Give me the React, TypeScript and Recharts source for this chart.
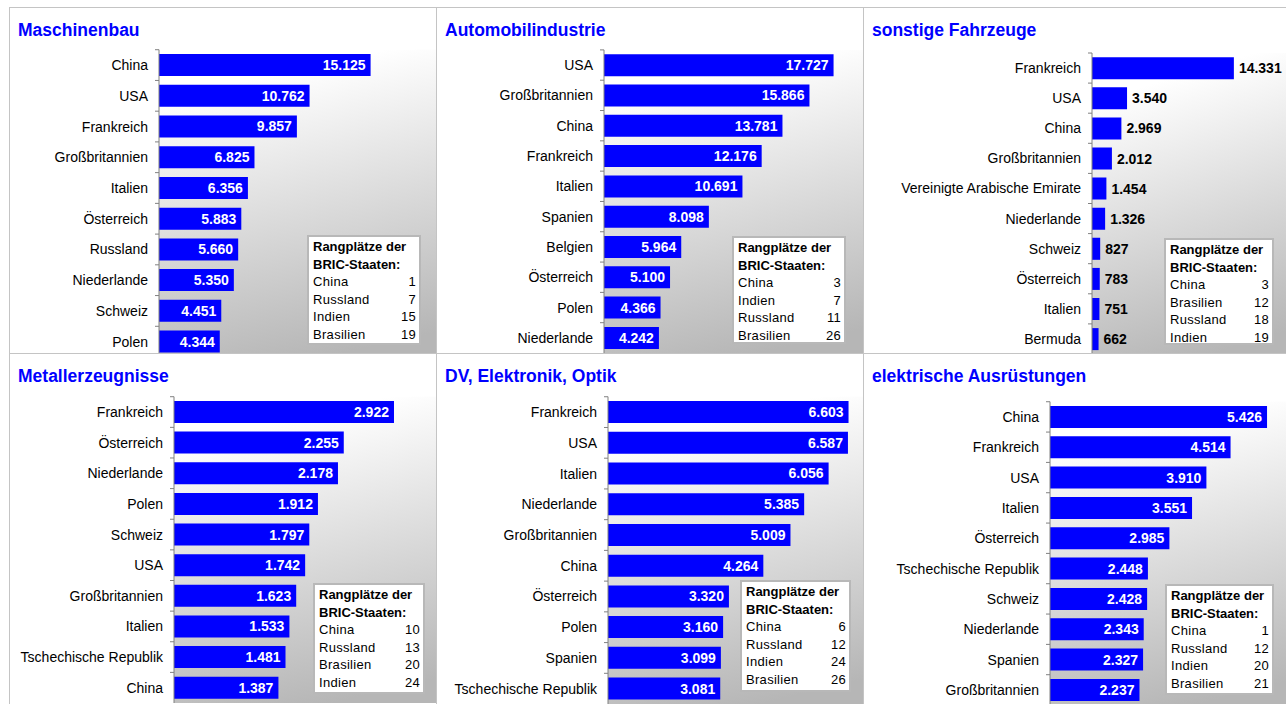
import React from 'react';
import { BarChart, Bar, XAxis, YAxis, CartesianGrid, LabelList } from 'recharts';

// ---------- DATA ----------
const maschinenbauTitel = 'Maschinenbau';
const maschinenbauLaender = ['China', 'USA', 'Frankreich', 'Großbritannien', 'Italien', 'Österreich', 'Russland', 'Niederlande', 'Schweiz', 'Polen'];
const maschinenbauWerte = [15125, 10762, 9857, 6825, 6356, 5883, 5660, 5350, 4451, 4344];
const maschinenbauBricLaender = ['China', 'Russland', 'Indien', 'Brasilien'];
const maschinenbauBricRang = [1, 7, 15, 19];

const autoTitel = 'Automobilindustrie';
const autoLaender = ['USA', 'Großbritannien', 'China', 'Frankreich', 'Italien', 'Spanien', 'Belgien', 'Österreich', 'Polen', 'Niederlande'];
const autoWerte = [17727, 15866, 13781, 12176, 10691, 8098, 5964, 5100, 4366, 4242];
const autoBricLaender = ['China', 'Indien', 'Russland', 'Brasilien'];
const autoBricRang = [3, 7, 11, 26];

const fahrzeugeTitel = 'sonstige Fahrzeuge';
const fahrzeugeLaender = ['Frankreich', 'USA', 'China', 'Großbritannien', 'Vereinigte Arabische Emirate', 'Niederlande', 'Schweiz', 'Österreich', 'Italien', 'Bermuda'];
const fahrzeugeWerte = [14331, 3540, 2969, 2012, 1454, 1326, 827, 783, 751, 662];
const fahrzeugeBricLaender = ['China', 'Brasilien', 'Russland', 'Indien'];
const fahrzeugeBricRang = [3, 12, 18, 19];

const metallTitel = 'Metallerzeugnisse';
const metallLaender = ['Frankreich', 'Österreich', 'Niederlande', 'Polen', 'Schweiz', 'USA', 'Großbritannien', 'Italien', 'Tschechische Republik', 'China'];
const metallWerte = [2922, 2255, 2178, 1912, 1797, 1742, 1623, 1533, 1481, 1387];
const metallBricLaender = ['China', 'Russland', 'Brasilien', 'Indien'];
const metallBricRang = [10, 13, 20, 24];

const dvTitel = 'DV, Elektronik, Optik';
const dvLaender = ['Frankreich', 'USA', 'Italien', 'Niederlande', 'Großbritannien', 'China', 'Österreich', 'Polen', 'Spanien', 'Tschechische Republik'];
const dvWerte = [6603, 6587, 6056, 5385, 5009, 4264, 3320, 3160, 3099, 3081];
const dvBricLaender = ['China', 'Russland', 'Indien', 'Brasilien'];
const dvBricRang = [6, 12, 24, 26];

const elektroTitel = 'elektrische Ausrüstungen';
const elektroLaender = ['China', 'Frankreich', 'USA', 'Italien', 'Österreich', 'Tschechische Republik', 'Schweiz', 'Niederlande', 'Spanien', 'Großbritannien'];
const elektroWerte = [5426, 4514, 3910, 3551, 2985, 2448, 2428, 2343, 2327, 2237];
const elektroBricLaender = ['China', 'Russland', 'Indien', 'Brasilien'];
const elektroBricRang = [1, 12, 20, 21];

const boxTitelZeile1 = 'Rangplätze der';
const boxTitelZeile2 = 'BRIC-Staaten:';

// ---------- LAYOUT / STYLE ----------
const FONT = "'Liberation Sans', Arial, Helvetica, sans-serif";
const BAR_COLOR = '#0000ff';

type Layout = {
  left: number; top: number; width: number; height: number;
  axisX: number; plotTop: number; band: number; max: number; inside: boolean;
  box: [number, number, number, number];
};

const layouts: Layout[] = [
  { left: 9, top: 7, width: 428, height: 347, axisX: 159, plotTop: 49.7, band: 30.7, max: 19800, inside: true, box: [307, 235, 114, 110] },
  { left: 436, top: 7, width: 428, height: 347, axisX: 604, plotTop: 49.9, band: 30.3, max: 20000, inside: true, box: [732, 236, 114, 108] },
  { left: 863, top: 7, width: 428, height: 347, axisX: 1092, plotTop: 53, band: 30.1, max: 20000, inside: false, box: [1164, 238, 110, 107] },
  { left: 9, top: 353, width: 428, height: 360, axisX: 174, plotTop: 396.7, band: 30.6, max: 3480, inside: true, box: [313, 583, 112, 111] },
  { left: 436, top: 353, width: 428, height: 360, axisX: 608, plotTop: 396.7, band: 30.65, max: 7000, inside: true, box: [740, 580, 111, 112] },
  { left: 863, top: 353, width: 428, height: 360, axisX: 1050, plotTop: 401.7, band: 30.24, max: 6000, inside: true, box: [1165, 584, 109, 111] },
];

const panels = [
  { titel: maschinenbauTitel, laender: maschinenbauLaender, werte: maschinenbauWerte, bricL: maschinenbauBricLaender, bricR: maschinenbauBricRang },
  { titel: autoTitel, laender: autoLaender, werte: autoWerte, bricL: autoBricLaender, bricR: autoBricRang },
  { titel: fahrzeugeTitel, laender: fahrzeugeLaender, werte: fahrzeugeWerte, bricL: fahrzeugeBricLaender, bricR: fahrzeugeBricRang },
  { titel: metallTitel, laender: metallLaender, werte: metallWerte, bricL: metallBricLaender, bricR: metallBricRang },
  { titel: dvTitel, laender: dvLaender, werte: dvWerte, bricL: dvBricLaender, bricR: dvBricRang },
  { titel: elektroTitel, laender: elektroLaender, werte: elektroWerte, bricL: elektroBricLaender, bricR: elektroBricRang },
];

const fmt = (v: number) => String(Math.round(v)).replace(/\B(?=(\d{3})+(?!\d))/g, '.');

function Panel({ idx }: { idx: number }) {
  const p = panels[idx];
  const L = layouts[idx];
  const innerLeft = L.left + 1;
  const innerTop = L.top + 1;
  const innerW = L.width - 2;
  const yaw = L.axisX - innerLeft;
  const marginTop = L.plotTop - innerTop;
  const n = p.laender.length;
  const chartH = Math.ceil(marginTop + n * L.band);
  const data = p.laender.map((land, i) => ({ land, wert: p.werte[i] }));
  const band = L.band;

  const renderTick = (props: any) => {
    const { y, payload } = props;
    return (
      <g>
        <line x1={yaw - 4} x2={yaw} y1={y - band / 2} y2={y - band / 2} stroke="#808080" strokeWidth={1} />
        <text x={yaw - 11} y={y} textAnchor="end" dominantBaseline="central" fontSize={14} fontFamily={FONT} fill="#000">
          {payload.value}
        </text>
      </g>
    );
  };

  const renderLabel = (props: any) => {
    const vb = props.viewBox && props.viewBox.width !== undefined ? props.viewBox : props;
    const x = Number(vb.x), y = Number(vb.y), w = Number(vb.width), h = Number(vb.height);
    const inside = L.inside;
    return (
      <text
        x={inside ? x + w - 5 : x + w + 5}
        y={y + h / 2}
        textAnchor={inside ? 'end' : 'start'}
        dominantBaseline="central"
        fontSize={14}
        fontWeight="bold"
        fontFamily={FONT}
        fill={inside ? '#ffffff' : '#000000'}
      >
        {fmt(Number(props.value))}
      </text>
    );
  };

  const [bx, by, bw, bh] = L.box;

  return (
    <div
      style={{
        position: 'absolute',
        left: L.left,
        top: L.top,
        width: L.width,
        height: L.height,
        boxSizing: 'border-box',
        border: '1px solid #c4c4c4',
        background: '#ffffff',
        overflow: 'hidden',
      }}
    >
      <div style={{ position: 'absolute', left: 0, top: 0 }}>
        <BarChart
          width={innerW}
          height={chartH}
          data={data}
          layout="vertical"
          margin={{ top: marginTop, right: 0, bottom: 0, left: 0 }}
          barCategoryGap="14%"
        >
          <CartesianGrid horizontal={false} vertical={false} fill="url(#plotBg)" stroke="none" />
          <XAxis type="number" domain={[0, L.max]} hide allowDataOverflow />
          <YAxis
            type="category"
            dataKey="land"
            width={yaw}
            interval={0}
            tickLine={false}
            tickSize={0}
            tickMargin={11}
            axisLine={{ stroke: '#808080', strokeWidth: 1 }}
            tick={renderTick}
          />
          <Bar dataKey="wert" fill={BAR_COLOR} isAnimationActive={false}>
            <LabelList dataKey="wert" content={renderLabel} />
          </Bar>
        </BarChart>
      </div>
      <div
        style={{
          position: 'absolute',
          left: 8,
          top: 12,
          fontFamily: FONT,
          fontWeight: 'bold',
          fontSize: 17.5,
          color: '#0000ff',
          whiteSpace: 'nowrap',
        }}
      >
        {p.titel}
      </div>
      <div
        style={{
          position: 'absolute',
          left: bx - innerLeft,
          top: by - innerTop,
          width: bw,
          height: bh,
          boxSizing: 'border-box',
          border: '2px solid #b8b8b8',
          background: '#ffffff',
          padding: '1px 3px 0 4px',
          fontFamily: FONT,
          fontSize: 13,
          lineHeight: '17.5px',
          color: '#000',
        }}
      >
        <div style={{ fontWeight: 'bold', whiteSpace: 'nowrap' }}>{boxTitelZeile1}</div>
        <div style={{ fontWeight: 'bold', whiteSpace: 'nowrap' }}>{boxTitelZeile2}</div>
        {p.bricL.map((land, i) => (
          <div key={land} style={{ display: 'flex', justifyContent: 'space-between', letterSpacing: 0.3 }}>
            <span>{land}</span>
            <span>{p.bricR[i]}</span>
          </div>
        ))}
      </div>
    </div>
  );
}

export default function App() {
  return (
    <div style={{ position: 'absolute', left: 0, top: 0, width: 1286, height: 704, overflow: 'hidden', background: '#ffffff' }}>
      <svg width={0} height={0} style={{ position: 'absolute' }}>
        <defs>
          <linearGradient id="plotBg" x1="0.4" y1="0" x2="0.6" y2="1">
            <stop offset="0" stopColor="#ffffff" />
            <stop offset="0.08" stopColor="#ffffff" />
            <stop offset="1" stopColor="#b6b6b6" />
          </linearGradient>
        </defs>
      </svg>
      {panels.map((_, i) => (
        <Panel key={i} idx={i} />
      ))}
    </div>
  );
}
